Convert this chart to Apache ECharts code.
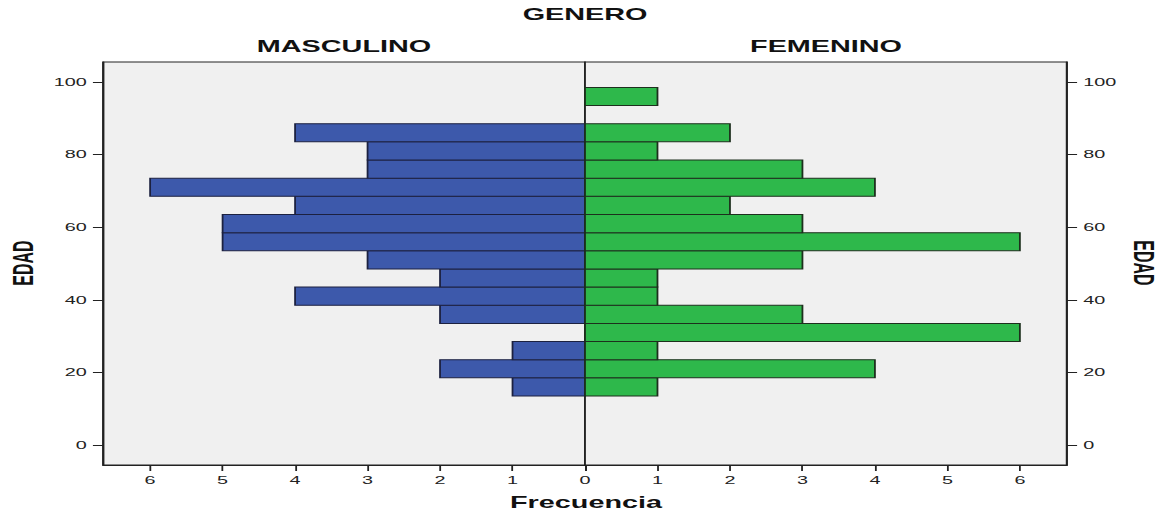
<!DOCTYPE html>
<html>
<head>
<meta charset="utf-8">
<script src="https://cdn.jsdelivr.net/npm/echarts@6/dist/echarts.min.js"></script>
<style>
  html, body { margin: 0; padding: 0; background: #fff; overflow: hidden; }
  #wrap { width: 1163px; height: 515px; overflow: hidden; }
  #chart { width: 646px; height: 515px; transform-origin: 0 0; transform: scaleX(1.80031); }
</style>
</head>
<body>
<div id="wrap"><div id="chart"></div></div>
<script>
// Age bins (EDAD), lower and upper edges, bottom to top
const binLower = [13.5, 18.5, 23.5, 28.5, 33.5, 38.5, 43.5, 48.5, 53.5, 58.5, 63.5, 68.5, 73.5, 78.5, 83.5, 88.5, 93.5];
const binUpper = [18.5, 23.5, 28.5, 33.5, 38.5, 43.5, 48.5, 53.5, 58.5, 63.5, 68.5, 73.5, 78.5, 83.5, 88.5, 93.5, 98.5];
// Frecuencia per bin
const masculino = [1, 2, 1, 0, 2, 4, 2, 3, 5, 5, 4, 6, 3, 3, 4, 0, 0];
const femenino  = [1, 4, 1, 6, 3, 1, 1, 3, 6, 3, 2, 4, 3, 1, 2, 0, 1];
// Tick labels
const ageTicks = [0, 20, 40, 60, 80, 100];
const freqTicks = [0, 1, 2, 3, 4, 5, 6];
const freqTicksLeft = [1, 2, 3, 4, 5, 6];

const SX = 1163 / 646;
const gLeft = 103 / SX, gMid = 585 / SX, gRight = 1067 / SX;
const FONT = '"Liberation Sans", Arial, sans-serif';

function toData(counts) {
  return counts.map((c, i) => [c, binLower[i], binUpper[i]]);
}
function makeRender(fill, stroke) {
  return function (params, api) {
    const c = api.value(0);
    if (!c) return null;
    const a = api.coord([0, api.value(2)]);
    const b = api.coord([c, api.value(1)]);
    return {
      type: 'rect',
      shape: { x: Math.min(a[0], b[0]), y: a[1], width: Math.abs(b[0] - a[0]), height: b[1] - a[1] },
      style: { fill: fill, stroke: stroke, lineWidth: 1 }
    };
  };
}

const tickLabelStyle = { fontFamily: FONT, fontSize: 11, color: '#222' };
const axisCommonX = {
  type: 'value', min: 0, max: 6.65,
  axisLine: { show: true, onZero: false, lineStyle: { color: '#222', width: 1 } },
  axisTick: { show: true, length: 6, customValues: freqTicks, lineStyle: { color: '#222', width: 1 } },
  splitLine: { show: false },
};
const axisCommonY = {
  type: 'value', min: -5.5, max: 105.5,
  axisLine: { show: true, onZero: false, lineStyle: { color: '#222', width: 1 } },
  axisTick: { show: true, length: 5.6, customValues: ageTicks, lineStyle: { color: '#222', width: 1 } },
  axisLabel: Object.assign({ customValues: ageTicks, margin: 9 }, tickLabelStyle),
  splitLine: { show: false },
};

const chart = echarts.init(document.getElementById('chart'), null, { renderer: 'svg' });
chart.setOption({
  animation: false,
  backgroundColor: '#fff',
  grid: [
    { left: gLeft, width: gMid - gLeft, top: 62, height: 403, show: true, backgroundColor: '#f0f0f0', borderColor: '#222', borderWidth: 1 },
    { left: gMid, width: gRight - gMid, top: 62, height: 403, show: true, backgroundColor: '#f0f0f0', borderColor: '#222', borderWidth: 1 }
  ],
  xAxis: [
    Object.assign({}, axisCommonX, { gridIndex: 0, inverse: true,
      axisLabel: Object.assign({ customValues: freqTicksLeft, margin: 10 }, tickLabelStyle) }),
    Object.assign({}, axisCommonX, { gridIndex: 1,
      axisLabel: Object.assign({ customValues: freqTicks, margin: 10 }, tickLabelStyle) })
  ],
  yAxis: [
    Object.assign({}, axisCommonY, { gridIndex: 0, position: 'left' }),
    Object.assign({}, axisCommonY, { gridIndex: 1, position: 'right' })
  ],
  series: [
    { name: 'MASCULINO', type: 'custom', xAxisIndex: 0, yAxisIndex: 0,
      renderItem: makeRender('#3d59ab', '#1c2140'), data: toData(masculino) },
    { name: 'FEMENINO', type: 'custom', xAxisIndex: 1, yAxisIndex: 1,
      renderItem: makeRender('#2eb84b', '#1d2f1d'), data: toData(femenino) }
  ],
  graphic: [
    { type: 'text', x: gMid, y: 15, style: { text: 'GENERO', font: 'bold 16px ' + FONT, fill: '#111', align: 'center', verticalAlign: 'middle' } },
    { type: 'text', x: (gLeft + gMid) / 2, y: 47, style: { text: 'MASCULINO', font: 'bold 16px ' + FONT, fill: '#111', align: 'center', verticalAlign: 'middle' } },
    { type: 'text', x: (gMid + gRight) / 2, y: 47, style: { text: 'FEMENINO', font: 'bold 16px ' + FONT, fill: '#111', align: 'center', verticalAlign: 'middle' } },
    { type: 'text', x: 586 / SX, y: 503, style: { text: 'Frecuencia', font: 'bold 16px ' + FONT, fill: '#111', align: 'center', verticalAlign: 'middle' } },
    { type: 'text', x: 23 / SX, y: 263, rotation: Math.PI / 2, style: { text: 'EDAD', font: 'bold 16px ' + FONT, fill: '#111', align: 'center', verticalAlign: 'middle' } },
    { type: 'text', x: 1144 / SX, y: 263, rotation: -Math.PI / 2, style: { text: 'EDAD', font: 'bold 16px ' + FONT, fill: '#111', align: 'center', verticalAlign: 'middle' } }
  ]
});
</script>
</body>
</html>
